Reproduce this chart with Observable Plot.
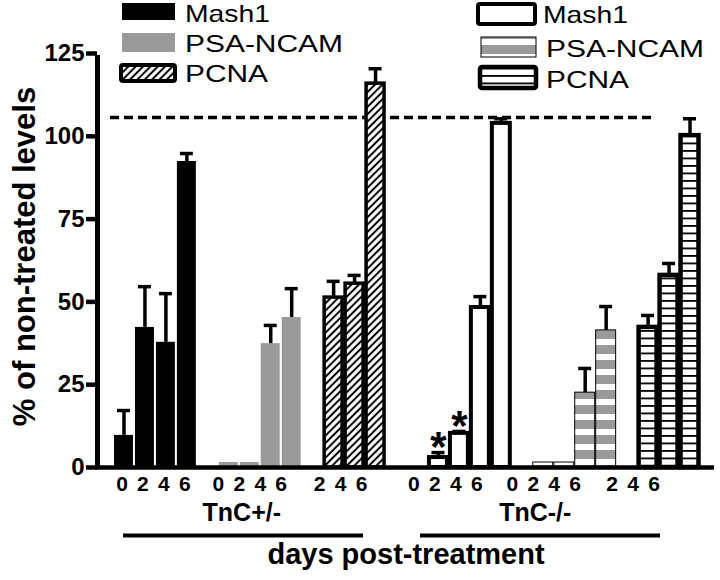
<!DOCTYPE html>
<html>
<head>
<meta charset="utf-8">
<script src="https://cdn.jsdelivr.net/npm/d3@7"></script>
<script src="https://cdn.jsdelivr.net/npm/@observablehq/plot@0.6"></script>
<style>
  body { margin: 0; background: #fff; }
  #chart svg { display: block; }
</style>
</head>
<body>
<div id="chart"></div>
<script>
// ---------- data ----------
const genotypes = ["TnC+/-", "TnC-/-"];
const markers = ["Mash1", "PSA-NCAM", "PCNA"];
const mash1Days = ["0", "2", "4", "6"];
const psaDays = ["0", "2", "4", "6"];
const pcnaDays = ["2", "4", "6"];

const hetMash1 = [9.7, 42.3, 37.8, 92.4];
const hetMash1Sem = [7.5, 12.3, 14.7, 2.4];
const hetPsa = [1.5, 1.5, 37.4, 45.3];
const hetPsaSem = [0, 0, 5.5, 8.7];
const hetPcna = [51.3, 55.5, 115.9];
const hetPcnaSem = [4.9, 2.5, 4.5];

const koMash1 = [3.0, 10.3, 48.3, 103.9];
const koMash1Sem = [1.5, 0.6, 3.3, 1.4];
const koPsa = [1.5, 1.5, 22.6, 41.4];
const koPsaSem = [0, 0, 7.3, 7.2];
const koPcna = [42.3, 58.0, 100.2];
const koPcnaSem = [3.6, 3.6, 5.1];

const significantKoMash1Days = ["0", "2"];
const referenceLevel = 105.7;
const yTicks = [0, 25, 50, 75, 100, 125];
const yLabel = "% of non-treated levels";
const xLabel = "days post-treatment";

// ---------- table built from the arrays ----------
const seriesTable = [
  {genotype: genotypes[0], marker: markers[0], days: mash1Days, values: hetMash1, sem: hetMash1Sem},
  {genotype: genotypes[0], marker: markers[1], days: psaDays, values: hetPsa, sem: hetPsaSem},
  {genotype: genotypes[0], marker: markers[2], days: pcnaDays, values: hetPcna, sem: hetPcnaSem},
  {genotype: genotypes[1], marker: markers[0], days: mash1Days, values: koMash1, sem: koMash1Sem},
  {genotype: genotypes[1], marker: markers[1], days: psaDays, values: koPsa, sem: koPsaSem},
  {genotype: genotypes[1], marker: markers[2], days: pcnaDays, values: koPcna, sem: koPcnaSem}
];

const rows = [];
const domain = [];
for (const g of genotypes) {
  for (const s of seriesTable.filter(t => t.genotype === g)) {
    s.days.forEach((d, i) => {
      const key = `${g}|${s.marker}|${d}`;
      domain.push(key);
      rows.push({key, genotype: g, marker: s.marker, day: d, value: s.values[i], sem: s.sem[i]});
    });
    domain.push(`${g}|${s.marker}|gap`);
  }
  domain.push(`${g}|gap`);
}
while (domain[domain.length - 1].endsWith("gap")) domain.pop();

// ---------- styles / layout ----------
const GRAY = "#9a9a9a";
const FONT = "'Liberation Sans', Arial, Helvetica, sans-serif";
const W = 720, H = 580;
const M = {top: 53, right: 6, bottom: 113, left: 97};

const barStyle = {
  "TnC+/-|Mash1":    {fill: "black", stroke: "none", strokeWidth: 0, inset: 1},
  "TnC+/-|PSA-NCAM": {fill: GRAY, stroke: "none", strokeWidth: 0, inset: 1},
  "TnC+/-|PCNA":     {fill: "url(#pDiag)", stroke: "black", strokeWidth: 3.5, inset: 1.5},
  "TnC-/-|Mash1":    {fill: "white", stroke: "black", strokeWidth: 4, inset: 1.5},
  "TnC-/-|PSA-NCAM": {fill: "url(#pStripe)", stroke: "black", strokeWidth: 1, inset: 0.5},
  "TnC-/-|PCNA":     {fill: "url(#pLines)", stroke: "black", strokeWidth: 4.5, inset: 1.5}
};
const labelShift = {
  "TnC+/-|Mash1": -2, "TnC+/-|PSA-NCAM": -10.5, "TnC+/-|PCNA": -14,
  "TnC-/-|Mash1": -24.5, "TnC-/-|PSA-NCAM": -31, "TnC-/-|PCNA": -36
};
const groupShift = {"TnC+/-": -8, "TnC-/-": -29};
const underlineInset = {"TnC+/-": [10, 22.5], "TnC-/-": [-7.4, 40]};

// ---------- marks ----------
const marks = [];
marks.push(Plot.ruleY([referenceLevel], {stroke: "black", strokeWidth: 3.5, strokeDasharray: "9,5", insetLeft: 13, insetRight: 59}));

for (const s of seriesTable) {
  const id = `${s.genotype}|${s.marker}`;
  const data = rows.filter(r => r.genotype === s.genotype && r.marker === s.marker);
  const st = barStyle[id];
  marks.push(Plot.barY(data, {
    x: "key", y: "value", fill: st.fill, stroke: st.stroke, strokeWidth: st.strokeWidth,
    insetLeft: st.inset, insetRight: st.inset
  }));
  marks.push(Plot.text(data, {
    x: "key", text: "day", frameAnchor: "bottom", dy: 23, dx: labelShift[id],
    fontSize: 21, fontWeight: "bold", fill: "black"
  }));
}

const withErr = rows.filter(r => r.sem > 0);
marks.push(Plot.ruleX(withErr, {x: "key", y1: "value", y2: d => d.value + d.sem, stroke: "black", strokeWidth: 3.5}));
marks.push(Plot.tickY(withErr, {x: "key", y: d => d.value + d.sem, stroke: "black", strokeWidth: 3.5, insetLeft: 4, insetRight: 4}));

marks.push(Plot.ruleY([0], {stroke: "black", strokeWidth: 4.5, insetLeft: -2}));
// y-axis line at the left edge of the plotting frame
marks.push(Plot.ruleX([domain[0]], {x: d => d, y1: 0, y2: 125, dx: -26.5, stroke: "black", strokeWidth: 5, insetTop: -1, insetBottom: -2}));

const stars = rows.filter(r => r.genotype === genotypes[1] && r.marker === markers[0] && significantKoMash1Days.includes(r.day));
marks.push(Plot.text(stars, {x: "key", y: d => d.value + d.sem, text: () => "*", dy: -5, fontSize: 42, fontWeight: "bold", fill: "black"}));

for (const g of genotypes) {
  const keys = rows.filter(r => r.genotype === g).map(r => r.key);
  const gd = domain.slice(domain.indexOf(keys[0]), domain.indexOf(keys[keys.length - 1]) + 1);
  const mid = gd[Math.floor(gd.length / 2)];
  marks.push(Plot.text([g], {x: () => mid, text: d => d, frameAnchor: "bottom", dy: 53, dx: groupShift[g], fontSize: 25, fontWeight: "bold", fill: "black"}));
  marks.push(Plot.ruleY([0], {x1: () => keys[0], x2: () => keys[keys.length - 1], dy: 68, stroke: "black", strokeWidth: 4,
    insetLeft: underlineInset[g][0], insetRight: underlineInset[g][1]}));
}

marks.push(Plot.text([xLabel], {text: d => d, frameAnchor: "bottom", dy: 96, fontSize: 29, fontWeight: "bold", fill: "black"}));
marks.push(Plot.text([yLabel], {text: d => d, frameAnchor: "left", textAnchor: "middle", rotate: -90, dx: -72, dy: -4, fontSize: 31, fontWeight: "bold", fill: "black"}));

const chart = Plot.plot({
  width: W, height: H,
  marginTop: M.top, marginRight: M.right, marginBottom: M.bottom, marginLeft: M.left,
  style: {fontFamily: FONT, fontSize: "24px", fontWeight: "bold", color: "black", background: "white", overflow: "visible"},
  x: {type: "band", domain, padding: 0, round: false, insetLeft: 16, insetRight: 14, axis: null},
  y: {domain: [0, 125], ticks: yTicks, tickSize: 11, tickPadding: 2, label: null, axis: "left"},
  marks
});
document.getElementById("chart").appendChild(chart);

// ---------- patterns and legend ----------
const svg = d3.select(chart);
const defs = svg.insert("defs", ":first-child");
const pd = defs.append("pattern").attr("id", "pDiag").attr("patternUnits", "userSpaceOnUse")
  .attr("width", 5.2).attr("height", 5.2).attr("patternTransform", "rotate(45)");
pd.append("rect").attr("width", 5.2).attr("height", 5.2).attr("fill", "white");
pd.append("line").attr("x1", 2.6).attr("x2", 2.6).attr("y1", 0).attr("y2", 5.2).attr("stroke", "black").attr("stroke-width", 2);
const ps = defs.append("pattern").attr("id", "pStripe").attr("patternUnits", "userSpaceOnUse").attr("width", 10).attr("height", 15);
ps.append("rect").attr("width", 10).attr("height", 15).attr("fill", GRAY);
ps.append("rect").attr("y", 9).attr("width", 10).attr("height", 6).attr("fill", "white");
const pl = defs.append("pattern").attr("id", "pLines").attr("patternUnits", "userSpaceOnUse").attr("width", 10).attr("height", 7.5);
pl.append("rect").attr("width", 10).attr("height", 7.5).attr("fill", "white");
pl.append("rect").attr("y", 0).attr("width", 10).attr("height", 1.8).attr("fill", "black");

svg.selectAll('g[aria-label^="y-axis"] line, g[aria-label^="y-axis"] path').attr("stroke-width", 4.5).attr("stroke", "black");
svg.selectAll('g[aria-label^="y-axis"] text').attr("font-size", 24).attr("font-weight", "bold").attr("fill", "black");

const legend = svg.append("g").attr("font-family", FONT).attr("font-size", 24).attr("font-weight", "normal").attr("text-anchor", "start");
const legendItems = [
  {label: markers[0], x: 122, y: 3, w: 53, h: 17, fill: "black", stroke: "none", sw: 0, tx: 185, ty: 22, tl: 85},
  {label: markers[1], x: 122, y: 33, w: 53, h: 19, fill: GRAY, stroke: "none", sw: 0, tx: 185, ty: 52, tl: 158},
  {label: markers[2], x: 121, y: 65, w: 54, h: 16, fill: "url(#pDiag)", stroke: "black", sw: 4, tx: 185, ty: 82, tl: 83},
  {label: markers[0], x: 478, y: 4, w: 57, h: 20, fill: "white", stroke: "black", sw: 4, tx: 543, ty: 23, tl: 85},
  {label: markers[1], x: 481, y: 37, w: 55, h: 20, fill: "url(#pStripe)", stroke: "black", sw: 1, tx: 546, ty: 57, tl: 158},
  {label: markers[2], x: 480, y: 67, w: 56, h: 21, fill: "url(#pLines)", stroke: "black", sw: 4.5, tx: 546, ty: 88, tl: 83}
];
for (const it of legendItems) {
  legend.append("rect").attr("x", it.x).attr("y", it.y).attr("width", it.w).attr("height", it.h)
    .attr("rx", it.sw > 2 ? 2 : 0).attr("fill", it.fill).attr("stroke", it.stroke).attr("stroke-width", it.sw);
  legend.append("text").attr("x", it.tx).attr("y", it.ty).attr("fill", "black").attr("text-anchor", "start")
    .attr("textLength", it.tl).attr("lengthAdjust", "spacingAndGlyphs").text(it.label);
}
</script>
</body>
</html>
